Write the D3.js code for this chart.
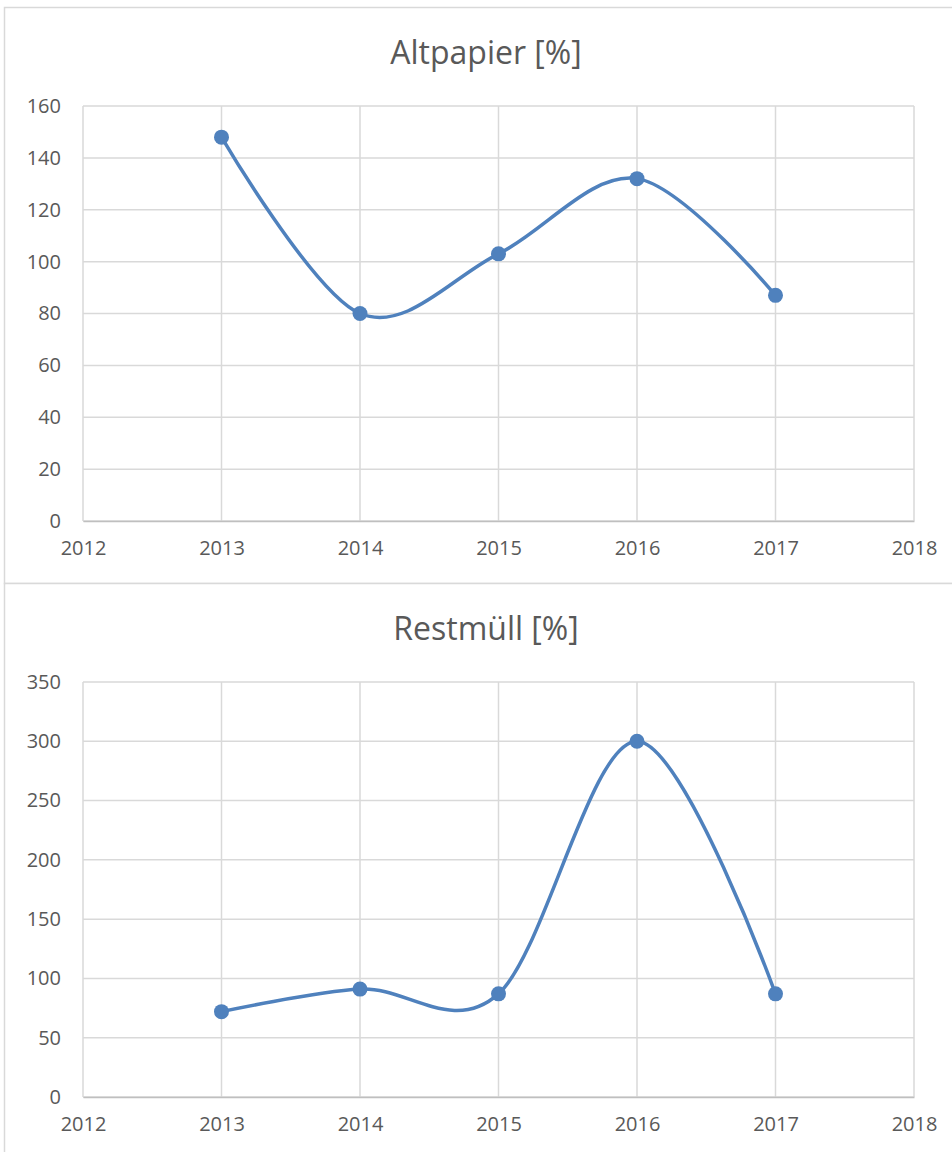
<!DOCTYPE html>
<html>
<head>
<meta charset="utf-8">
<script src="https://cdn.jsdelivr.net/npm/d3@7"></script>
<style>
  body { margin: 0; background: #fff; }
  text { font-family: "Open Sans", sans-serif; fill: #595959; }
</style>
</head>
<body>
<div id="chart"></div>
<script>
// chart data
const years = [2013, 2014, 2015, 2016, 2017];
const altpapier = [148, 80, 103, 132, 87];
const restmuell = [72, 91, 87, 300, 87];
const xTicks = [2012, 2013, 2014, 2015, 2016, 2017, 2018];
const altpapierTicks = [0, 20, 40, 60, 80, 100, 120, 140, 160];
const restmuellTicks = [0, 50, 100, 150, 200, 250, 300, 350];

const width = 952, height = 1152;
const blue = "#4f81bd", grid = "#d9d9d9";
const fontFam = "\"Open Sans\", sans-serif";

const svg = d3.select("#chart").append("svg")
  .attr("width", width)
  .attr("height", height);

function drawChart(top, boxHeight, title, values, yTicks) {
  const g = svg.append("g").attr("transform", `translate(0,${top})`);

  // outer chart border (right edge runs off the picture)
  g.append("rect")
    .attr("x", 4.5).attr("y", 0.5)
    .attr("width", width + 10).attr("height", boxHeight)
    .attr("fill", "#fff")
    .attr("stroke", grid)
    .attr("stroke-width", 1.5);

  g.append("text")
    .attr("x", 486).attr("y", 57)
    .attr("text-anchor", "middle")
    .attr("font-size", 32)
    .text(title);

  const x = d3.scaleLinear().domain([2012, 2018]).range([83, 914]);
  const y = d3.scaleLinear().domain([0, d3.max(yTicks)]).range([514, 99]);

  // gridlines
  g.append("g").selectAll("line.h")
    .data(yTicks)
    .join("line")
    .attr("x1", 83).attr("x2", 914)
    .attr("y1", d => y(d)).attr("y2", d => y(d))
    .attr("stroke", grid).attr("stroke-width", 1.5);

  g.append("g").selectAll("line.v")
    .data(xTicks)
    .join("line")
    .attr("x1", d => x(d)).attr("x2", d => x(d))
    .attr("y1", y(d3.max(yTicks))).attr("y2", y(0))
    .attr("stroke", grid).attr("stroke-width", 1.5);

  // axes, styled like the office chart
  const yAxis = g.append("g")
    .attr("transform", "translate(83,0)")
    .call(d3.axisLeft(y).tickValues(yTicks).tickSize(0).tickPadding(22));
  yAxis.select(".domain").remove();
  yAxis.selectAll("text").attr("font-size", 20).attr("font-family", fontFam).attr("fill", "#595959");

  const xAxis = g.append("g")
    .attr("transform", `translate(0,${y(0)})`)
    .call(d3.axisBottom(x).tickValues(xTicks).tickFormat(d3.format("d")).tickSize(0).tickPadding(20));
  xAxis.select(".domain").attr("stroke", "#bfbfbf").attr("stroke-width", 1.5);
  xAxis.selectAll("text").attr("font-size", 20).attr("font-family", fontFam).attr("fill", "#595959");

  const pts = years.map((yr, i) => ({ year: yr, value: values[i] }));

  const line = d3.line()
    .x(d => x(d.year))
    .y(d => y(d.value))
    .curve(d3.curveCardinal.tension(0));

  g.append("path")
    .datum(pts)
    .attr("d", line)
    .attr("fill", "none")
    .attr("stroke", blue)
    .attr("stroke-width", 3.5);

  g.selectAll("circle")
    .data(pts)
    .join("circle")
    .attr("cx", d => x(d.year))
    .attr("cy", d => y(d.value))
    .attr("r", 7.5)
    .attr("fill", blue);
}

drawChart(7, 576, "Altpapier [%]", altpapier, altpapierTicks);
drawChart(583, 600, "Restmüll [%]", restmuell, restmuellTicks);
</script>
</body>
</html>
